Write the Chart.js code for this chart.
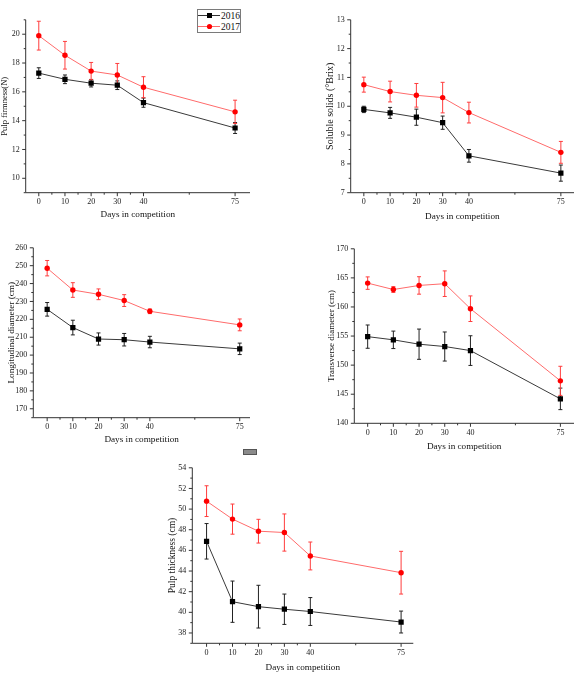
<!DOCTYPE html>
<html>
<head>
<meta charset="utf-8">
<script src="https://cdn.jsdelivr.net/npm/chart.js@4.4.1/dist/chart.umd.min.js"></script>
<style>
  body { margin: 0; background: #fff; width: 578px; height: 673px; position: relative; overflow: hidden; }
  canvas { position: absolute; }
  #legend { position: absolute; left: 197px; top: 9px; width: 44px; height: 24px; border: 1px solid #7a7a7a; box-sizing: border-box; }
  #stray { position: absolute; left: 243px; top: 449px; width: 12px; height: 4px; background: #8a8a8a; border: 1px solid #555; }
</style>
</head>
<body>

<div id="legend">
  <svg width="42" height="22" font-family="Liberation Serif" font-size="9.5">
    <line x1="0" y1="5.5" x2="22" y2="5.5" stroke="#333" stroke-width="1"/>
    <rect x="9" y="3" width="5" height="5" fill="#000"/>
    <text x="23" y="9" fill="#111">2016</text>
    <line x1="0" y1="16.5" x2="22" y2="16.5" stroke="#ff6b6b" stroke-width="1"/>
    <circle cx="11.5" cy="16.5" r="2.6" fill="#ff0000"/>
    <text x="23" y="20" fill="#111">2017</text>
  </svg>
</div>
<div id="stray"></div>

<script>
// ===== 1. DATA =====
const days = [0, 10, 20, 30, 40, 75];
const xMinorTicks = [5, 15, 25, 35, 57.5];

// pulp firmness (N)
const firmness2016 = [17.3, 16.87, 16.6, 16.46, 15.25, 13.49];
const firmness2016Err = [0.37, 0.3, 0.26, 0.3, 0.32, 0.38];
const firmness2017 = [19.9, 18.54, 17.44, 17.17, 16.32, 14.61];
const firmness2017Err = [1.0, 0.96, 0.6, 0.8, 0.73, 0.81];
const firmnessTicks = [10, 12, 14, 16, 18, 20];

// soluble solids (°Brix)
const solids2016 = [9.89, 9.77, 9.62, 9.43, 8.28, 7.68];
const solids2016Err = [0.11, 0.19, 0.28, 0.23, 0.22, 0.28];
const solids2017 = [10.75, 10.51, 10.38, 10.3, 9.78, 8.4];
const solids2017Err = [0.26, 0.36, 0.41, 0.53, 0.36, 0.38];
const solidsTicks = [7, 8, 9, 10, 11, 12, 13];

// longitudinal diameter (cm)
const longDiam2016 = [225.6, 215.4, 209.0, 208.6, 207.3, 203.5];
const longDiam2016Err = [3.8, 4.1, 3.4, 3.5, 3.2, 3.2];
const longDiam2017 = [248.6, 236.4, 234.0, 230.5, 224.5, 216.9];
const longDiam2017Err = [4.3, 4.1, 3.0, 3.3, 1.3, 3.3];
const longDiamTicks = [170, 180, 190, 200, 210, 220, 230, 240, 250, 260];

// transverse diameter (cm)
const transDiam2016 = [154.9, 154.35, 153.6, 153.2, 152.5, 144.2];
const transDiam2016Err = [2.0, 1.5, 2.6, 2.5, 2.55, 1.85];
const transDiam2017 = [164.1, 163.0, 163.7, 164.0, 159.7, 147.3];
const transDiam2017Err = [1.07, 0.5, 1.5, 2.2, 2.2, 2.5];
const transDiamTicks = [140, 145, 150, 155, 160, 165, 170];

// pulp thickness (cm)
const thick2016 = [46.88, 41.03, 40.55, 40.3, 40.08, 39.06];
const thick2016Err = [1.72, 2.0, 2.07, 1.47, 1.35, 1.06];
const thick2017 = [50.77, 49.03, 47.86, 47.73, 45.46, 43.84];
const thick2017Err = [1.49, 1.46, 1.15, 1.8, 1.35, 2.07];
const thickTicks = [38, 40, 42, 44, 46, 48, 50, 52, 54];

// ===== 2. PANEL LAYOUT =====
// plot = [left, top, right, bottom] of the axes box, in page pixels
const panels = [
  { plot: [25.7, 17.3, 250, 192.7], xRange: [-5, 80.7], yRange: [9, 21], yTicks: firmnessTicks,
    yTitle: 'Pulp firmness(N)', yTitleSize: 8.5, yTitleOff: 20.7, xTitleOff: 22.3,
    s2016: firmness2016, e2016: firmness2016Err, s2017: firmness2017, e2017: firmness2017Err },
  { plot: [350.7, 17.3, 574, 192.7], xRange: [-5, 80], yRange: [7, 13], yTicks: solidsTicks,
    yTitle: 'Soluble solids (°Brix)', yTitleSize: 10, yTitleOff: 20.7, xTitleOff: 24,
    s2016: solids2016, e2016: solids2016Err, s2017: solids2017, e2017: solids2017Err },
  { plot: [33.3, 245.7, 250, 417.7], xRange: [-5.4, 79], yRange: [165, 260], yTicks: longDiamTicks,
    yTitle: 'Longitudinal diameter (cm)', yTitleSize: 9.2, yTitleOff: 21.6, xTitleOff: 22.3,
    s2016: longDiam2016, e2016: longDiam2016Err, s2017: longDiam2017, e2017: longDiam2017Err },
  { plot: [354.3, 246.7, 574, 423.3], xRange: [-5.2, 80.3], yRange: [140, 170], yTicks: transDiamTicks,
    yTitle: 'Transverse diameter (cm)', yTitleSize: 9, yTitleOff: 22.6, xTitleOff: 23.4,
    s2016: transDiam2016, e2016: transDiam2016Err, s2017: transDiam2017, e2017: transDiam2017Err },
  { plot: [192.3, 465, 413.3, 643.3], xRange: [-5.5, 79.7], yRange: [37, 54], yTicks: thickTicks,
    yTitle: 'Pulp thickness (cm)', yTitleSize: 9.5, yTitleOff: 19.6, xTitleOff: 24.4,
    s2016: thick2016, e2016: thick2016Err, s2017: thick2017, e2017: thick2017Err }
];

const FONT = 'Liberation Serif';

// ===== 3. PLUGINS =====
// Origin-style axes: left + bottom line, outward major/minor ticks
const originAxes = {
  id: 'originAxes',
  afterDraw(chart, args, opts) {
    const { ctx, chartArea } = chart;
    const xs = chart.scales.x, ys = chart.scales.y;
    ctx.save();
    ctx.strokeStyle = '#333';
    ctx.lineWidth = 1;
    ctx.beginPath();
    ctx.moveTo(chartArea.left, chartArea.top);
    ctx.lineTo(chartArea.left, chartArea.bottom);
    ctx.lineTo(chartArea.right, chartArea.bottom);
    opts.yMajor.forEach(function(v) {
      const y = ys.getPixelForValue(v);
      ctx.moveTo(chartArea.left, y); ctx.lineTo(chartArea.left - 3.5, y);
    });
    opts.yMinor.forEach(function(v) {
      const y = ys.getPixelForValue(v);
      ctx.moveTo(chartArea.left, y); ctx.lineTo(chartArea.left - 2, y);
    });
    opts.xMajor.forEach(function(v) {
      const x = xs.getPixelForValue(v);
      ctx.moveTo(x, chartArea.bottom); ctx.lineTo(x, chartArea.bottom + 3.5);
    });
    opts.xMinor.forEach(function(v) {
      const x = xs.getPixelForValue(v);
      ctx.moveTo(x, chartArea.bottom); ctx.lineTo(x, chartArea.bottom + 2);
    });
    ctx.stroke();
    ctx.restore();
  }
};

// vertical error bars with caps, drawn under the lines/markers
const errorBars = {
  id: 'errorBars',
  beforeDatasetsDraw(chart) {
    const ctx = chart.ctx, ys = chart.scales.y;
    chart.data.datasets.forEach(function(ds, i) {
      const meta = chart.getDatasetMeta(i);
      ctx.save();
      ctx.strokeStyle = ds.errorColor;
      ctx.lineWidth = 1;
      ctx.beginPath();
      meta.data.forEach(function(pt, j) {
        const v = ds.data[j].y, e = ds.errors[j];
        const top = ys.getPixelForValue(v + e), bot = ys.getPixelForValue(v - e);
        ctx.moveTo(pt.x, top); ctx.lineTo(pt.x, bot);
        ctx.moveTo(pt.x - 2, top); ctx.lineTo(pt.x + 2, top);
        ctx.moveTo(pt.x - 2, bot); ctx.lineTo(pt.x + 2, bot);
      });
      ctx.stroke();
      ctx.restore();
    });
  }
};

// ===== 4. BUILD ONE PANEL =====
function toPoints(values) {
  return days.map(function(d, i) { return { x: d, y: values[i] }; });
}

function minorTicks(major, lo, hi) {
  const half = (major[1] - major[0]) / 2;
  const out = [];
  for (let v = major[0] - half; v <= hi + 1e-9; v += 2 * half) {
    if (v >= lo - 1e-9) out.push(v);
  }
  return out;
}

function makePanel(p) {
  const [L, T, R, B] = p.plot;
  const W = p.yTitleOff + p.yTitleSize * 1.2 / 2;   // y scale box width
  const H = p.xTitleOff + 9.2 * 1.2 / 2;             // x scale box height
  const left = Math.floor(L - W), top = Math.floor(T - 8);
  const width = Math.ceil(R + 8) - left;
  const height = Math.ceil(B + H + 2) - top;

  const canvas = document.createElement('canvas');
  canvas.width = width;
  canvas.height = height;
  canvas.style.left = left + 'px';
  canvas.style.top = top + 'px';
  document.body.appendChild(canvas);

  new Chart(canvas.getContext('2d'), {
    type: 'line',
    data: {
      datasets: [
        {
          label: '2016',
          data: toPoints(p.s2016),
          errors: p.e2016,
          errorColor: '#222',
          borderColor: '#3a3a3a',
          borderWidth: 1,
          pointStyle: 'rect',
          pointRadius: 3.7,
          pointBorderWidth: 0,
          pointBackgroundColor: '#000',
          order: 1
        },
        {
          label: '2017',
          data: toPoints(p.s2017),
          errors: p.e2017,
          errorColor: '#ff3d3d',
          borderColor: '#ff6b6b',
          borderWidth: 1,
          pointStyle: 'circle',
          pointRadius: 2.7,
          pointBorderWidth: 0,
          pointBackgroundColor: '#ff0000',
          order: 2
        }
      ]
    },
    options: {
      responsive: false,
      animation: false,
      layout: {
        padding: { left: (L - W) - left, top: T - top, right: left + width - R, bottom: top + height - (B + H) }
      },
      scales: {
        x: {
          type: 'linear',
          min: p.xRange[0],
          max: p.xRange[1],
          grid: { display: false, drawTicks: false },
          border: { display: false },
          afterBuildTicks: function(s) { s.ticks = days.map(function(v) { return { value: v }; }); },
          afterFit: function(s) { s.height = H; },
          ticks: { autoSkip: false, maxRotation: 0, padding: 4.7, color: '#222', font: { family: FONT, size: 8 } },
          title: { display: true, text: 'Days in competition', padding: 0, color: '#111', font: { family: FONT, size: 9.2 } }
        },
        y: {
          min: p.yRange[0],
          max: p.yRange[1],
          grid: { display: false, drawTicks: false },
          border: { display: false },
          afterBuildTicks: function(s) { s.ticks = p.yTicks.map(function(v) { return { value: v }; }); },
          afterFit: function(s) { s.width = W; },
          ticks: { autoSkip: false, padding: 6, color: '#222', font: { family: FONT, size: 8 } },
          title: { display: true, text: p.yTitle, padding: 0, color: '#111', font: { family: FONT, size: p.yTitleSize } }
        }
      },
      plugins: {
        legend: { display: false },
        tooltip: { enabled: false },
        originAxes: {
          yMajor: p.yTicks,
          yMinor: minorTicks(p.yTicks, p.yRange[0], p.yRange[1]),
          xMajor: days,
          xMinor: xMinorTicks
        }
      }
    },
    plugins: [errorBars, originAxes]
  });
}

// ===== 5. DRAW ALL PANELS =====
panels.forEach(makePanel);
</script>
</body>
</html>
